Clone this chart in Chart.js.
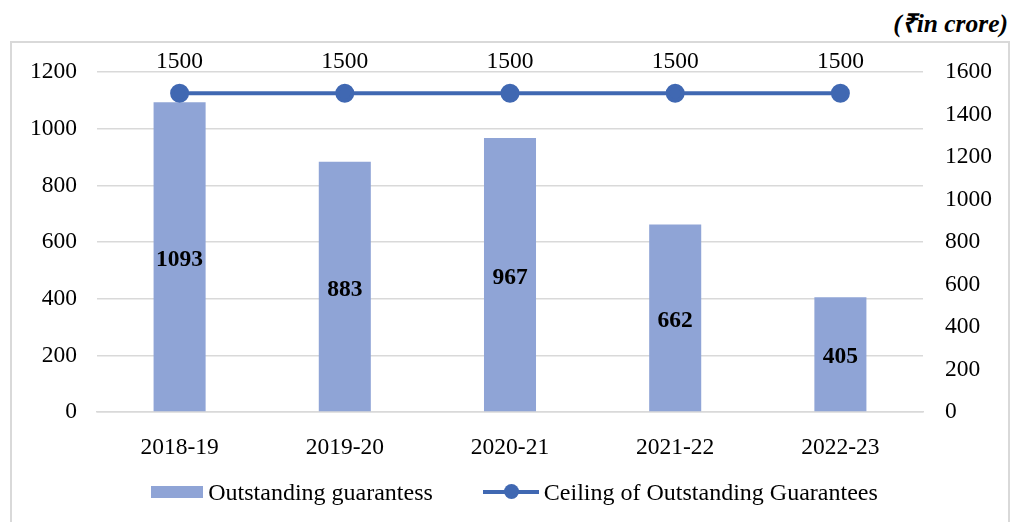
<!DOCTYPE html>
<html>
<head>
<meta charset="utf-8">
<script src="https://cdn.jsdelivr.net/npm/chart.js@4"></script>
<style>
  html, body { margin: 0; padding: 0; background: #fff; }
  body { width: 1019px; height: 522px; position: relative; overflow: hidden; font-family: "Liberation Serif", "Times New Roman", serif; }
  #frame { position: absolute; left: 10px; top: 41px; width: 996px; height: 500px; border: 2px solid #d9d9d9; }
  #unit { position: absolute; right: 11px; top: 5px; font-size: 25.5px; font-weight: bold; font-style: italic; color: #000; }
  #wrap { position: absolute; left: 0; top: 0; width: 1019px; height: 522px; }
  #legend { position: absolute; left: 5px; width: 1019px; top: 477px; height: 30px; display: flex; justify-content: center; align-items: center; font-size: 24px; color: #000; }
  .item { display: flex; align-items: center; margin: 0 25px; }
  .box { width: 52px; height: 12px; background: #8fa4d6; margin-right: 5px; }
  .lmark { position: relative; width: 56px; height: 16px; margin-right: 5px; }
  .lmark .ln { position: absolute; left: 0; right: 0; top: 6px; height: 4px; background: #4068b2; }
  .lmark .dot { position: absolute; left: 21px; top: 0; width: 15px; height: 15px; border-radius: 50%; background: #4068b2; }
</style>
</head>
<body>
<div id="frame"></div>
<div id="unit">(₹in crore)</div>
<div id="wrap"><canvas id="chart" width="1019" height="522"></canvas></div>
<div id="legend">
  <div class="item"><span class="box"></span><span>Outstanding guarantess</span></div>
  <div class="item"><span class="lmark"><span class="ln"></span><span class="dot"></span></span><span>Ceiling of Outstanding Guarantees</span></div>
</div>
<script>
const years = ['2018-19', '2019-20', '2020-21', '2021-22', '2022-23'];
const outstanding = [1093, 883, 967, 662, 405];
const ceiling = [1500, 1500, 1500, 1500, 1500];
const leftTicks = [0, 200, 400, 600, 800, 1000, 1200];
const rightTicks = [0, 200, 400, 600, 800, 1000, 1200, 1400, 1600];

const barColor = '#8fa4d6';
const lineColor = '#4068b2';
const fontFamily = '"Liberation Serif", "Times New Roman", serif';
const tickFont = { family: fontFamily, size: 23.5 };

// draws the numbers on bars and above line points
const valueLabels = {
  id: 'valueLabels',
  afterDatasetsDraw(chart) {
    const ctx = chart.ctx;
    ctx.save();
    ctx.fillStyle = '#000';
    ctx.textAlign = 'center';
    ctx.textBaseline = 'middle';
    chart.getDatasetMeta(0).data.forEach((el, i) => {
      ctx.font = 'bold 23.5px ' + fontFamily;
      ctx.fillText(outstanding[i], el.x, (el.y + el.base) / 2 + 3);
    });
    chart.getDatasetMeta(1).data.forEach((el, i) => {
      ctx.font = '23.5px ' + fontFamily;
      ctx.fillText(ceiling[i], el.x, el.y - 31);
    });
    ctx.restore();
  }
};

new Chart(document.getElementById('chart'), {
  type: 'bar',
  data: {
    labels: years,
    datasets: [
      { type: 'bar', label: 'Outstanding guarantess', data: outstanding, backgroundColor: barColor, yAxisID: 'y', order: 1, barPercentage: 0.315, categoryPercentage: 1 },
      { type: 'line', label: 'Ceiling of Outstanding Guarantees', data: ceiling, borderColor: lineColor, backgroundColor: lineColor, borderWidth: 4, pointRadius: 7.5, pointHoverRadius: 7.5, yAxisID: 'y1', order: 0 }
    ]
  },
  options: {
    responsive: false,
    animation: false,
    events: [],
    layout: { padding: { top: 72, bottom: 60, left: 0, right: 0 } },
    plugins: { legend: { display: false }, tooltip: { enabled: false } },
    scales: {
      x: {
        grid: { display: false },
        border: { color: '#d9d9d9', width: 1.5 },
        ticks: { color: '#000', font: tickFont, padding: 14 },
        afterFit: s => { s.height = 50; }
      },
      y: {
        position: 'left',
        min: 0, max: 1200,
        afterBuildTicks: s => { s.ticks = leftTicks.map(v => ({ value: v })); },
        grid: { color: '#d9d9d9', lineWidth: 1.5, drawTicks: false },
        border: { display: false },
        ticks: { color: '#000', font: tickFont, padding: 20, callback: v => String(v) },
        afterFit: s => { s.width = 97; }
      },
      y1: {
        position: 'right',
        min: 0, max: 1600,
        afterBuildTicks: s => { s.ticks = rightTicks.map(v => ({ value: v })); },
        grid: { drawOnChartArea: false, drawTicks: false },
        border: { display: false },
        ticks: { color: '#000', font: tickFont, padding: 22, callback: v => String(v) },
        afterFit: s => { s.width = 96; }
      }
    }
  },
  plugins: [valueLabels]
});
</script>
</body>
</html>
